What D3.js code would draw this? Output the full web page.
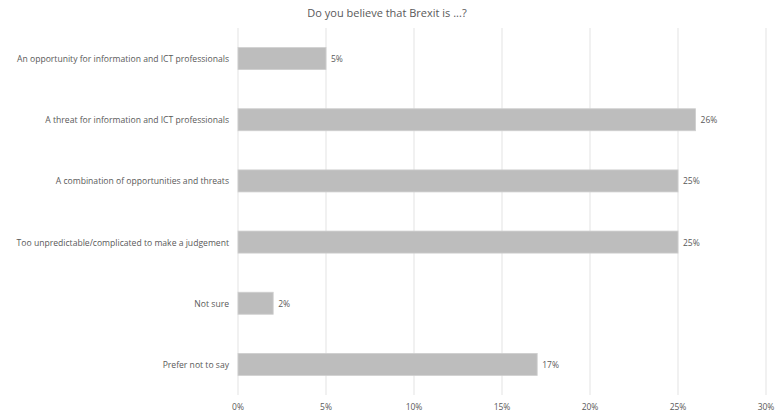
<!DOCTYPE html>
<html><head><meta charset="utf-8">
<script src="https://cdn.jsdelivr.net/npm/d3@7"></script>
<style>body{margin:0;background:#fff}text{font-family:"Open Sans",Calibri,sans-serif}</style>
</head><body>
<svg id="c" width="775" height="413"></svg>
<script>
const title = "Do you believe that Brexit is ...?";
const categories = [
  "An opportunity for information and ICT professionals",
  "A threat for information and ICT professionals",
  "A combination of opportunities and threats",
  "Too unpredictable/complicated to make a judgement",
  "Not sure",
  "Prefer not to say"
];
const values = [5, 26, 25, 25, 2, 17];
const valueLabels = ["5%", "26%", "25%", "25%", "2%", "17%"];
const ticks = [0, 5, 10, 15, 20, 25, 30];

const svg = d3.select("#c");
const x = d3.scaleLinear().domain([0, 30]).range([238, 766]);
const y = d3.scaleBand().domain(categories).range([28, 395]).paddingInner(0.64).paddingOuter(0.32);
const textCol = "#595959";

svg.append("text").attr("x", 387).attr("y", 17).attr("text-anchor", "middle")
  .attr("font-size", 11).attr("fill", textCol).text(title);

svg.append("g").selectAll("line").data(ticks).join("line")
  .attr("x1", d => x(d)).attr("x2", d => x(d)).attr("y1", 28).attr("y2", 395)
  .attr("stroke", "#e3e3e3").attr("stroke-width", 1);

svg.append("g").selectAll("text").data(ticks).join("text")
  .attr("x", d => x(d)).attr("y", 410).attr("text-anchor", "middle")
  .attr("font-size", 8.5).attr("fill", textCol).text(d => d + "%");

svg.append("g").selectAll("rect").data(values).join("rect")
  .attr("x", x(0)).attr("y", (d, i) => y(categories[i]))
  .attr("width", d => x(d) - x(0)).attr("height", y.bandwidth())
  .attr("fill", "#bdbdbd").attr("stroke", "#cfcfcf").attr("stroke-width", 0.8);

svg.append("g").selectAll("text").data(values).join("text")
  .attr("x", d => x(d) + 5).attr("y", (d, i) => y(categories[i]) + y.bandwidth() / 2 + 3.5)
  .attr("font-size", 8.5).attr("fill", textCol).text((d, i) => valueLabels[i]);

svg.append("g").selectAll("text").data(categories).join("text")
  .attr("x", 229).attr("y", d => y(d) + y.bandwidth() / 2 + 3.5).attr("text-anchor", "end")
  .attr("font-size", 8.6).attr("fill", textCol).text(d => d);
</script>
</body></html>
